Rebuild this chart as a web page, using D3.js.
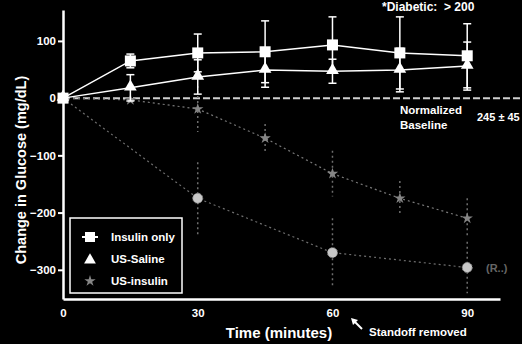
<!DOCTYPE html>
<html>
<head>
<meta charset="utf-8">
<script src="https://cdn.jsdelivr.net/npm/d3@7"></script>
<style>
  body { margin: 0; background: #000; }
  svg { display: block; font-family: "Liberation Sans", Arial, sans-serif; font-weight: bold; }
</style>
</head>
<body>
<div id="chartArea"></div>
<script>
// Data
const times = [0, 15, 30, 45, 60, 75, 90];
const insulinOnly = [0, 65, 79, 81, 93, 79, 74];
const insulinOnlyErr = [0, 12, 33, 54, 49, 63, 56];
const usSaline = [0, 18, 37, 49, 47, 49, 56];
const usSalineErr = [0, 23, 30, 30, 21, 38, 42];
const usInsulin = [0, -3, -19, -70, -132, -175, -210];
const usInsulinErr = [0, 0, 40, 25, 40, 30, 35];
const lowTimes = [0, 30, 60, 90];
const lowSeries = [0, -175, -270, -296];
const lowErr = [0, 63, 60, 45];
const xTicks = [0, 30, 60, 90];
const yTicks = [-300, -200, -100, 0, 100];

const width = 522, height = 344;

const x = d3.scaleLinear().domain([0, 97.3]).range([63, 500]);
const y = d3.scaleLinear().domain([-351, 154]).range([299, 10]);

const svg = d3.select("#chartArea")
    .append("svg")
    .attr("width", width)
    .attr("height", height);

svg.append("rect").attr("width", width).attr("height", height).attr("fill", "#000");

// Baseline
svg.append("line")
    .attr("x1", x(0)).attr("x2", width)
    .attr("y1", y(0)).attr("y2", y(0))
    .attr("stroke", "#cfcfcf")
    .attr("stroke-width", 2)
    .attr("stroke-dasharray", "7,3");

// Axes
const yAxis = svg.append("g")
    .attr("transform", `translate(${x(0)},0)`)
    .call(d3.axisLeft(y).tickValues(yTicks).tickSize(5).tickSizeOuter(0).tickPadding(2));
const xAxis = svg.append("g")
    .attr("transform", `translate(0,${y.range()[0]})`)
    .call(d3.axisBottom(x).tickValues(xTicks).tickSize(0).tickSizeOuter(0).tickPadding(10));

[xAxis, yAxis].forEach(g => {
    g.select(".domain").attr("stroke", "#fff").attr("stroke-width", 2.5);
    g.selectAll(".tick line").attr("stroke", "#fff").attr("stroke-width", 2);
    g.selectAll(".tick text").attr("fill", "#fff").style("font-size", "11.5px").style("font-family", "Liberation Sans, Arial").style("font-weight", "bold");
});

// Series helpers
const errorBars = (g, ts, vals, errs, color, dash) => {
    const d = ts.map((t, i) => ({t, v: vals[i], e: errs[i]})).filter(p => p.e > 0);
    g.selectAll(null).data(d).join("line")
        .attr("x1", p => x(p.t)).attr("x2", p => x(p.t))
        .attr("y1", p => y(p.v + p.e)).attr("y2", p => y(p.v - p.e))
        .attr("stroke", color).attr("stroke-width", 1.5)
        .attr("stroke-dasharray", dash);
    if (!dash) {
        ["+", "-"].forEach(s => {
            g.selectAll(null).data(d).join("line")
                .attr("x1", p => x(p.t) - 4).attr("x2", p => x(p.t) + 4)
                .attr("y1", p => y(s === "+" ? p.v + p.e : p.v - p.e))
                .attr("y2", p => y(s === "+" ? p.v + p.e : p.v - p.e))
                .attr("stroke", color).attr("stroke-width", 1.5);
        });
    }
};
const seriesLine = (g, ts, vals, color, w, dash) => {
    g.append("path")
        .datum(ts.map((t, i) => [t, vals[i]]))
        .attr("d", d3.line().x(d => x(d[0])).y(d => y(d[1])))
        .attr("fill", "none")
        .attr("stroke", color)
        .attr("stroke-width", w)
        .attr("stroke-dasharray", dash);
};

// Faint US-insulin series
const gGrey = svg.append("g");
seriesLine(gGrey, lowTimes, lowSeries, "#6e6e6e", 1.2, "2,3");
errorBars(gGrey, lowTimes, lowSeries, lowErr, "#6e6e6e", "2,3");
seriesLine(gGrey, times, usInsulin, "#7a7a7a", 1.2, "2,3");
errorBars(gGrey, times, usInsulin, usInsulinErr, "#6e6e6e", "2,3");
gGrey.selectAll(null).data(lowTimes.slice(1)).join("circle")
    .attr("cx", t => x(t)).attr("cy", (t, i) => y(lowSeries[i + 1]))
    .attr("r", 5).attr("fill", "#c8c8c8").attr("stroke", "#888").attr("stroke-dasharray", "2,1");
gGrey.selectAll(null).data(times.slice(1)).join("path")
    .attr("transform", (t, i) => `translate(${x(t)},${y(usInsulin[i + 1])})`)
    .attr("d", d3.symbol(d3.symbolStar, 40))
    .attr("fill", "#858585");

// US-Saline
const gSal = svg.append("g");
seriesLine(gSal, times, usSaline, "#fff", 1.5);
errorBars(gSal, times, usSaline, usSalineErr, "#fff");
gSal.selectAll(null).data(times).join("path")
    .attr("transform", (t, i) => `translate(${x(t)},${y(usSaline[i]) - 1})`)
    .attr("d", d3.symbol(d3.symbolTriangle, 70))
    .attr("fill", "#fff");

// Insulin only
const gIns = svg.append("g");
seriesLine(gIns, times, insulinOnly, "#fff", 1.5);
errorBars(gIns, times, insulinOnly, insulinOnlyErr, "#fff");
gIns.selectAll(null).data(times).join("rect")
    .attr("x", t => x(t) - 5.5).attr("y", (t, i) => y(insulinOnly[i]) - 5.5)
    .attr("width", 11).attr("height", 11)
    .attr("fill", "#fff");

// Legend
const legend = svg.append("g").attr("id", "legend");
legend.append("rect")
    .attr("x", 70).attr("y", 218).attr("width", 112).attr("height", 75)
    .attr("fill", "#000").attr("stroke", "#fff").attr("stroke-width", 1.5);
legend.append("line").attr("x1", 82).attr("x2", 98).attr("y1", 237).attr("y2", 237).attr("stroke", "#fff").attr("stroke-width", 2);
legend.append("rect").attr("x", 85).attr("y", 232).attr("width", 10).attr("height", 10).attr("fill", "#fff");
legend.append("path").attr("transform", "translate(90,260)").attr("d", d3.symbol(d3.symbolTriangle, 60)).attr("fill", "#fff");
legend.append("path").attr("transform", "translate(90,281)").attr("d", d3.symbol(d3.symbolStar, 40)).attr("fill", "#858585");
legend.selectAll("text").data(["Insulin only", "US-Saline", "US-insulin"]).join("text")
    .attr("x", 111).attr("y", (d, i) => 241 + i * 22)
    .attr("fill", "#fff").style("font-size", "11.5px").text(d => d);

// Annotations
const note = (tx, ty, txt, size, color) => svg.append("text")
    .attr("x", tx).attr("y", ty).attr("fill", color || "#fff")
    .style("font-size", size + "px").text(txt);
note(382, 11, "*Diabetic:\u00a0\u00a0> 200", 12);
note(400, 114, "Normalized", 11.5);
note(400, 129, "Baseline", 11.5);
note(477, 121, "245 ± 45", 11);
note(486, 272, "(R..)", 11, "#666");
note(369, 336, "Standoff removed", 11.5);

svg.append("text")
    .attr("x", 279).attr("y", 338)
    .attr("text-anchor", "middle").attr("fill", "#fff")
    .style("font-size", "15px").text("Time (minutes)");
svg.append("text")
    .attr("transform", "translate(26,170) rotate(-90)")
    .attr("text-anchor", "middle").attr("fill", "#fff")
    .style("font-size", "14.5px").text("Change in Glucose (mg/dL)");

// Arrow
svg.append("line").attr("x1", 362).attr("y1", 329).attr("x2", 354).attr("y2", 321)
    .attr("stroke", "#fff").attr("stroke-width", 2);
svg.append("path").attr("d", "M351,318 L358,320 L353,325 Z").attr("fill", "#fff");
</script>
</body>
</html>
